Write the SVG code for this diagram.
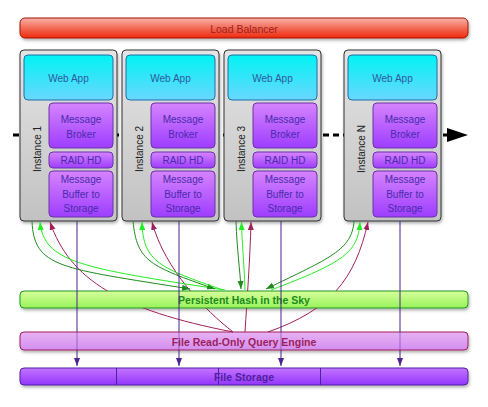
<svg xmlns="http://www.w3.org/2000/svg" width="488" height="407" viewBox="0 0 488 407">
<style>
text{font-family:"Liberation Sans",Arial,sans-serif;text-anchor:middle;dominant-baseline:central}
.lbl{font-size:10px}
.web{fill:url(#gWeb);stroke:#1f6fa8;stroke-width:1}
.pur{fill:url(#gPur);stroke:#6a32a8;stroke-width:1}
.inst{fill:url(#gInst);stroke:#333;stroke-width:1}
.tw{fill:#2b5b9b}
.tp{fill:#4b2baa}
.ti{fill:#222}
.dg{fill:none;stroke:#1e8a1e;stroke-width:1}
.lg{fill:none;stroke:#22ee22;stroke-width:1}
.mr{fill:none;stroke:#a0205a;stroke-width:1}
.pl{fill:none;stroke:#4a2390;stroke-width:1}
</style>
<defs>
<linearGradient id="gLB" x1="0" y1="0" x2="0" y2="1"><stop offset="0" stop-color="#f7b3aa"/><stop offset="0.5" stop-color="#f26a55"/><stop offset="1" stop-color="#ee2a0e"/></linearGradient>
<linearGradient id="gInst" x1="0" y1="0" x2="0" y2="1"><stop offset="0" stop-color="#e4e4e4"/><stop offset="1" stop-color="#c2c2c2"/></linearGradient>
<linearGradient id="gWeb" x1="0" y1="0" x2="0" y2="1"><stop offset="0" stop-color="#00f3f3"/><stop offset="1" stop-color="#6ad6ff"/></linearGradient>
<linearGradient id="gPur" x1="0" y1="0" x2="0" y2="1"><stop offset="0" stop-color="#d584ff"/><stop offset="1" stop-color="#9d3dff"/></linearGradient>
<linearGradient id="gHash" x1="0" y1="0" x2="0" y2="1"><stop offset="0" stop-color="#d6ff9a"/><stop offset="1" stop-color="#98f25a"/></linearGradient>
<linearGradient id="gQ" x1="0" y1="0" x2="0" y2="1"><stop offset="0" stop-color="#e8b2f4"/><stop offset="1" stop-color="#d38ef0"/></linearGradient>
<linearGradient id="gFS" x1="0" y1="0" x2="0" y2="1"><stop offset="0" stop-color="#c374ff"/><stop offset="1" stop-color="#9335fc"/></linearGradient>
<filter id="sh" x="-10%" y="-30%" width="120%" height="180%"><feDropShadow dx="1" dy="2" stdDeviation="1.5" flood-color="#000" flood-opacity="0.3"/></filter>
<marker id="aDG" markerUnits="userSpaceOnUse" markerWidth="9" markerHeight="7" refX="8" refY="3" orient="auto"><path d="M0,0 L8,3 L0,6 z" fill="#1e8a1e"/></marker>
<marker id="aLG" markerUnits="userSpaceOnUse" markerWidth="9" markerHeight="7" refX="8" refY="3" orient="auto"><path d="M0,0 L8,3 L0,6 z" fill="#22ee22"/></marker>
<marker id="aMR" markerUnits="userSpaceOnUse" markerWidth="9" markerHeight="7" refX="8" refY="3" orient="auto"><path d="M0,0 L8,3 L0,6 z" fill="#a0205a"/></marker>
<marker id="aPL" markerUnits="userSpaceOnUse" markerWidth="9" markerHeight="7" refX="8" refY="3" orient="auto"><path d="M0,0 L8,3 L0,6 z" fill="#4a2390"/></marker>
<mask id="mHash" maskUnits="userSpaceOnUse" x="0" y="0" width="488" height="407"><rect width="488" height="407" fill="#fff"/><rect x="20" y="291" width="448" height="17" fill="#000"/></mask>
<mask id="mQ" maskUnits="userSpaceOnUse" x="0" y="0" width="488" height="407"><rect width="488" height="407" fill="#fff"/><rect x="20" y="332" width="448" height="18" fill="#777"/></mask>
</defs>

<g id="flow">
<line x1="13" y1="135" x2="447" y2="135" stroke="#000" stroke-width="3" stroke-dasharray="6 4"/>
<polygon points="447,128 468,135 447,142" fill="#000"/>
</g>

<g id="load-balancer">
<rect x="20" y="18" width="448" height="20" rx="5" fill="url(#gLB)" stroke="#a81208" filter="url(#sh)"/>
<text x="244" y="28.5" font-size="10.5" fill="#a02020">Load Balancer</text>
</g>

<g id="instance-1">
<rect class="inst" x="20" y="50" width="97" height="171" rx="4" filter="url(#sh)"/>
<rect class="web" x="24" y="55" width="89" height="45" rx="4"/>
<text class="lbl tw" x="68.5" y="78">Web App</text>
<text class="lbl ti" transform="translate(37,149) rotate(-90)">Instance 1</text>
<rect class="pur" x="49" y="103" width="64" height="45" rx="4"/>
<text class="lbl tp" x="81" y="119">Message</text><text class="lbl tp" x="81" y="134">Broker</text>
<rect class="pur" x="49" y="152" width="64" height="16" rx="4"/>
<text class="lbl tp" x="81" y="160">RAID HD</text>
<rect class="pur" x="49" y="171" width="64" height="46" rx="4"/>
<text class="lbl tp" x="81" y="179.5">Message</text><text class="lbl tp" x="81" y="194">Buffer to</text><text class="lbl tp" x="81" y="208.5">Storage</text>
</g>

<g id="instance-2">
<rect class="inst" x="122" y="50" width="97" height="171" rx="4" filter="url(#sh)"/>
<rect class="web" x="126" y="55" width="89" height="45" rx="4"/>
<text class="lbl tw" x="170.5" y="78">Web App</text>
<text class="lbl ti" transform="translate(139,149) rotate(-90)">Instance 2</text>
<rect class="pur" x="151" y="103" width="64" height="45" rx="4"/>
<text class="lbl tp" x="183" y="119">Message</text><text class="lbl tp" x="183" y="134">Broker</text>
<rect class="pur" x="151" y="152" width="64" height="16" rx="4"/>
<text class="lbl tp" x="183" y="160">RAID HD</text>
<rect class="pur" x="151" y="171" width="64" height="46" rx="4"/>
<text class="lbl tp" x="183" y="179.5">Message</text><text class="lbl tp" x="183" y="194">Buffer to</text><text class="lbl tp" x="183" y="208.5">Storage</text>
</g>

<g id="instance-3">
<rect class="inst" x="224" y="50" width="97" height="171" rx="4" filter="url(#sh)"/>
<rect class="web" x="228" y="55" width="89" height="45" rx="4"/>
<text class="lbl tw" x="272.5" y="78">Web App</text>
<text class="lbl ti" transform="translate(241,149) rotate(-90)">Instance 3</text>
<rect class="pur" x="253" y="103" width="64" height="45" rx="4"/>
<text class="lbl tp" x="285" y="119">Message</text><text class="lbl tp" x="285" y="134">Broker</text>
<rect class="pur" x="253" y="152" width="64" height="16" rx="4"/>
<text class="lbl tp" x="285" y="160">RAID HD</text>
<rect class="pur" x="253" y="171" width="64" height="46" rx="4"/>
<text class="lbl tp" x="285" y="179.5">Message</text><text class="lbl tp" x="285" y="194">Buffer to</text><text class="lbl tp" x="285" y="208.5">Storage</text>
</g>

<g id="instance-n">
<rect class="inst" x="344" y="50" width="97" height="171" rx="4" filter="url(#sh)"/>
<rect class="web" x="348" y="55" width="89" height="45" rx="4"/>
<text class="lbl tw" x="392.5" y="78">Web App</text>
<text class="lbl ti" transform="translate(361,149) rotate(-90)">Instance N</text>
<rect class="pur" x="373" y="103" width="64" height="45" rx="4"/>
<text class="lbl tp" x="405" y="119">Message</text><text class="lbl tp" x="405" y="134">Broker</text>
<rect class="pur" x="373" y="152" width="64" height="16" rx="4"/>
<text class="lbl tp" x="405" y="160">RAID HD</text>
<rect class="pur" x="373" y="171" width="64" height="46" rx="4"/>
<text class="lbl tp" x="405" y="179.5">Message</text><text class="lbl tp" x="405" y="194">Buffer to</text><text class="lbl tp" x="405" y="208.5">Storage</text>
</g>

<g id="persistent-hash">
<rect x="20" y="291" width="448" height="17" rx="4" fill="url(#gHash)" stroke="#1e9a1e" filter="url(#sh)"/>
<text x="244" y="300" font-size="10.5" font-weight="bold" fill="#1c8a1c">Persistent Hash in the Sky</text>
</g>

<g id="query-engine">
<rect x="20" y="332" width="448" height="18" rx="4" fill="url(#gQ)" stroke="#a0205a" filter="url(#sh)"/>
<text x="244" y="341.5" font-size="10.5" font-weight="bold" fill="#9c1f5a">File Read-Only Query Engine</text>
</g>

<g id="file-storage">
<rect x="20" y="368" width="448" height="17" rx="4" fill="url(#gFS)" stroke="#5020a0" filter="url(#sh)"/>
<line x1="116.5" y1="368" x2="116.5" y2="385" stroke="#5020a0"/>
<line x1="218.5" y1="368" x2="218.5" y2="385" stroke="#5020a0"/>
<line x1="320.5" y1="368" x2="320.5" y2="385" stroke="#5020a0"/>
<text x="244" y="377" font-size="10.5" font-weight="bold" fill="#5020a0">File Storage</text>
</g>

<g id="connectors">
<g mask="url(#mHash)">
<path class="mr" d="M233,332 C120,310 70,280 50,222" marker-end="url(#aMR)"/>
<path class="mr" d="M233,332 C205,310 165,270 152,222" marker-end="url(#aMR)"/>
<path class="mr" d="M245,332 C247,300 250,260 251,222" marker-end="url(#aMR)"/>
<path class="mr" d="M268,332 C330,310 355,280 368,222" marker-end="url(#aMR)"/>
</g>
<path class="dg" d="M32,221 C34,268 60,268 190,289" marker-end="url(#aDG)"/>
<path class="lg" d="M225,290 C80,268 44,262 40,222" marker-end="url(#aLG)"/>
<path class="dg" d="M133,221 C137,262 150,266 215,289" marker-end="url(#aDG)"/>
<path class="lg" d="M223,290 C160,268 143,262 142,222" marker-end="url(#aLG)"/>
<path class="dg" d="M236,221 C237,250 240,270 241,289" marker-end="url(#aDG)"/>
<path class="lg" d="M245,290 C244,260 242,245 241.5,222" marker-end="url(#aLG)"/>
<path class="dg" d="M354,221 C352,250 330,258 266,289" marker-end="url(#aDG)"/>
<path class="lg" d="M271,290 C345,262 358,252 360,222" marker-end="url(#aLG)"/>
<g mask="url(#mQ)">
<path class="pl" d="M77,221 V366" marker-end="url(#aPL)"/>
<path class="pl" d="M179,221 V366" marker-end="url(#aPL)"/>
<path class="pl" d="M281,221 V366" marker-end="url(#aPL)"/>
<path class="pl" d="M400,221 V366" marker-end="url(#aPL)"/>
</g>
</g>
</svg>
